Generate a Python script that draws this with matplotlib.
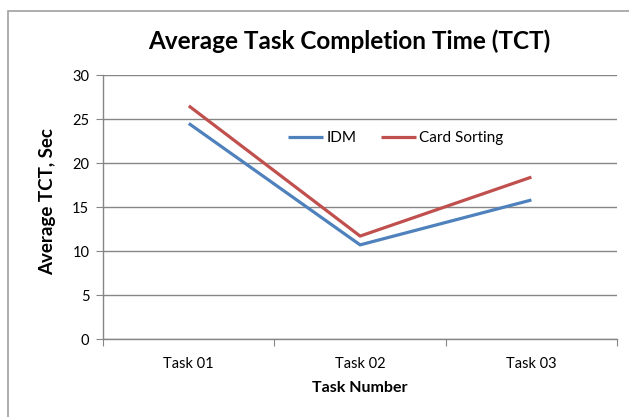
#!/usr/bin/env python3
"""Average Task Completion Time (TCT) — IDM vs Card Sorting line chart."""
import matplotlib
matplotlib.use("Agg")
import matplotlib.pyplot as plt
from matplotlib.patches import Rectangle

TASKS = ["Task 01", "Task 02", "Task 03"]
IDM = [24.5, 10.7, 15.8]
CARD_SORTING = [26.5, 11.7, 18.4]
Y_TICKS = [0, 5, 10, 15, 20, 25, 30]

BLUE = "#4F81BD"
RED = "#C0504D"
GRID = "#868686"

plt.rcParams["font.family"] = ["Lato", "DejaVu Sans"]

fig = plt.figure(figsize=(6.29, 4.17), dpi=100)
ax = fig.add_axes([0.164, 0.187, 0.817, 0.633])

x = list(range(len(TASKS)))
ax.plot(x, IDM, color=BLUE, linewidth=2.3, label="IDM", solid_capstyle="butt")
ax.plot(x, CARD_SORTING, color=RED, linewidth=2.3, label="Card Sorting",
        solid_capstyle="butt")

ax.set_xlim(-0.5, len(TASKS) - 0.5)
ax.set_ylim(0, 30)
ax.set_yticks(Y_TICKS)
ax.yaxis.grid(True, color=GRID, linewidth=1.0)
ax.set_axisbelow(True)

# category axis: tick marks between categories, labels centred
ax.set_xticks([i - 0.5 for i in range(len(TASKS) + 1)])
ax.set_xticklabels([])
ax.set_xticks(x, minor=True)
ax.set_xticklabels(TASKS, minor=True, fontsize=10.5)
ax.tick_params(axis="x", which="minor", length=0, pad=13)
ax.tick_params(axis="x", which="major", length=5, color=GRID, direction="out")
ax.tick_params(axis="y", length=5, color=GRID, labelsize=10.5, pad=5)

for side in ("top", "right"):
    ax.spines[side].set_visible(False)
for side in ("left", "bottom"):
    ax.spines[side].set_color(GRID)
    ax.spines[side].set_linewidth(1.0)

ax.set_ylabel("Average TCT, Sec", fontsize=13.5, fontweight="bold")
ax.yaxis.set_label_coords(-0.092, 0.52)
ax.set_xlabel("Task Number", fontsize=11.5, fontweight="bold", labelpad=7)
fig.text(0.556, 0.90, "Average Task Completion Time (TCT)", ha="center",
         va="center", fontsize=17.5, fontweight="bold")

ax.legend(loc="center", bbox_to_anchor=(0.569, 0.761), ncol=2, frameon=False,
          fontsize=11, handlelength=2.3, handletextpad=0.2, columnspacing=1.6)

# chart frame
fig.add_artist(Rectangle((8 / 629, -0.1), 1.2, 1.1 - 11 / 417,
                         transform=fig.transFigure, fill=False,
                         edgecolor="#a0a0a0", linewidth=1.2))

fig.savefig("out.png", dpi=100)
